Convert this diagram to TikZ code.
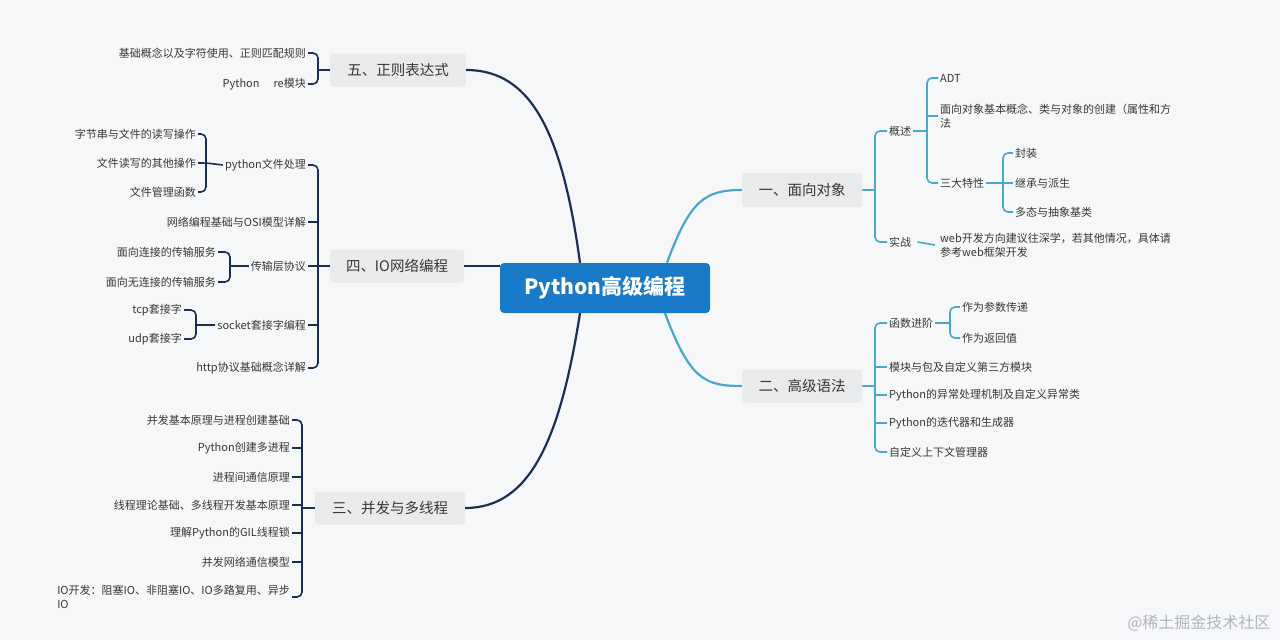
\documentclass[tikz,border=0pt]{standalone}
\usepackage{fontspec}
\setmainfont{Noto Sans CJK SC}
\usetikzlibrary{calc}
\definecolor{bg}{RGB}{246,247,249}
\definecolor{rootblue}{RGB}{24,122,200}
\definecolor{boxgray}{RGB}{233,234,236}
\definecolor{navy}{RGB}{26,48,82}
\definecolor{cyanl}{RGB}{72,168,202}
\definecolor{txt}{RGB}{55,55,55}
\definecolor{wm}{RGB}{178,181,186}
\begin{document}
\begin{tikzpicture}[x=1pt,y=-1pt,
  rootbox/.style={fill=rootblue, rounded corners=4pt, minimum width=210pt, minimum height=50pt, text=white, font=\fontsize{21}{24}\selectfont\bfseries},
  mainbox/.style={fill=boxgray, rounded corners=3pt, minimum height=33pt, text=txt, font=\fontsize{14.5}{17}\selectfont},
  lt/.style={anchor=east, inner sep=2pt, text=txt, font=\fontsize{11}{14}\selectfont, align=left},
  rt/.style={anchor=west, inner sep=2pt, text=txt, font=\fontsize{11}{14}\selectfont, align=left},
  nvm/.style={draw=navy, line width=2.2pt},
  cym/.style={draw=cyanl, line width=2.2pt},
  nvb/.style={draw=navy, line width=1.6pt, rounded corners=5pt},
  cyb/.style={draw=cyanl, line width=1.6pt, rounded corners=5pt},
  wmark/.style={anchor=east, text=wm, font=\fontsize{16}{18}\selectfont}
]
\useasboundingbox (0,0) rectangle (1280,640);
\fill[bg] (0,0) rectangle (1280,640);

% root and main branches
\node[rootbox] (root) at (605,288) {Python高级编程};
\node[mainbox, minimum width=136pt] (m5) at (398,70) {五、正则表达式};
\node[mainbox, minimum width=134pt] (m4) at (397,266) {四、IO网络编程};
\node[mainbox, minimum width=150pt] (m3) at (390,508) {三、并发与多线程};
\node[mainbox, minimum width=120pt, minimum height=34pt] (m1) at (802,190) {一、面向对象};
\node[mainbox, minimum width=120pt] (m2) at (802,386) {二、高级语法};

\draw[nvm] ([xshift=-25pt]root.north) .. controls (562,130) and (530,70) .. (m5.east);
\draw[nvm] (m4.east) -- (m4.east -| root.west);
\draw[nvm] ([xshift=-25pt]root.south) .. controls (560,440) and (530,508) .. (m3.east);
\draw[cym] ([xshift=62pt]root.north) .. controls (690,200) and (705,190) .. (m1.west);
\draw[cym] ([xshift=60pt]root.south) .. controls (690,380) and (705,386) .. (m2.west);

% ---- 五 ----
\node[lt] (k51) at (308,53) {基础概念以及字符使用、正则匹配规则};
\node[lt] (k52) at (308,84) {Python\hspace{14pt}re模块};
\coordinate (b5) at (318,70);
\draw[nvb] (k51.east) -| (b5) |- (k52.east);
\draw[nvb] (b5) -- (m5.west);

% ---- 四 ----
\node[lt] (k41) at (308,165) {python文件处理};
\node[lt] (k42) at (308,222) {网络编程基础与OSI模型详解};
\node[lt] (k43) at (308,266) {传输层协议};
\node[lt] (k44) at (308,325) {socket套接字编程};
\node[lt] (k45) at (308,368) {http协议基础概念详解};
\coordinate (b4) at (318,266);
\draw[nvb] (k41.east) -| (b4) |- (k45.east);
\draw[nvb] (k42.east) -- (k42.east -| b4);
\draw[nvb] (k44.east) -- (k44.east -| b4);
\draw[nvb] (k43.east) -- (b4) -- (m4.west);

\node[lt] (k411) at (198,134) {字节串与文件的读写操作};
\node[lt] (k412) at (198,163) {文件读写的其他操作};
\node[lt] (k413) at (198,192) {文件管理函数};
\coordinate (b41) at (206,163);
\draw[nvb] (k411.east) -| (b41) |- (k413.east);
\draw[nvb] (k412.east) -- (b41) -- (k41.west);

\node[lt] (k431) at (218,252) {面向连接的传输服务};
\node[lt] (k432) at (218,282) {面向无连接的传输服务};
\coordinate (b43) at (230,266);
\draw[nvb] (k431.east) -| (b43) |- (k432.east);
\draw[nvb] (b43) -- (k43.west);

\node[lt] (k441) at (184,310) {tcp套接字};
\node[lt] (k442) at (184,339) {udp套接字};
\coordinate (b44) at (196,325);
\draw[nvb] (k441.east) -| (b44) |- (k442.east);
\draw[nvb] (b44) -- (k44.west);

% ---- 三 ----
\node[lt] (k31) at (292,420) {并发基本原理与进程创建基础};
\node[lt] (k32) at (292,448) {Python创建多进程};
\node[lt] (k33) at (292,477) {进程间通信原理};
\node[lt] (k34) at (292,505) {线程理论基础、多线程开发基本原理};
\node[lt] (k35) at (292,533) {理解Python的GIL线程锁};
\node[lt] (k36) at (292,562) {并发网络通信模型};
\node[lt] (k37) at (292,597) {IO开发：阻塞IO、非阻塞IO、IO多路复用、异步\\IO};
\coordinate (b3) at (302,508);
\draw[nvb] (k31.east) -| (b3) |- (k37.east);
\foreach \k in {k32,k33,k34,k35,k36} \draw[nvb] (\k.east) -- (\k.east -| b3);
\draw[nvb] (b3) -- (m3.west);

% ---- 一 ----
\node[rt] (r1) at (887,131) {概述};
\node[rt] (r2) at (887,242) {实战};
\coordinate (b1) at (875,190);
\draw[cyb] (r1.west) -| (b1) |- (r2.west);
\draw[cyb] (b1) -- (m1.east);

\node[rt] (r11) at (938,78) {ADT};
\node[rt] (r12) at (938,116) {面向对象基本概念、类与对象的创建（属性和方\\法};
\node[rt] (r13) at (938,183) {三大特性};
\coordinate (b11) at (927,131);
\draw[cyb] (r11.west) -| (b11) |- (r13.west);
\draw[cyb] (r12.west) -- (r12.west -| b11);
\draw[cyb] (b11) -- (r1.east);

\node[rt] (r131) at (1013,153) {封装};
\node[rt] (r132) at (1013,183) {继承与派生};
\node[rt] (r133) at (1013,212) {多态与抽象基类};
\coordinate (b13) at (1003,183);
\draw[cyb] (r131.west) -| (b13) |- (r133.west);
\draw[cyb] (r132.west) -- (b13) -- (r13.east);

\node[rt] (r21) at (938,245) {web开发方向建议往深学，若其他情况，具体请\\参考web框架开发};
\draw[cyb] ([xshift=4pt]r2.east) -- ([xshift=-3pt]r21.west);

% ---- 二 ----
\node[rt] (s1) at (887,323) {函数进阶};
\node[rt] (s2) at (887,367) {模块与包及自定义第三方模块};
\node[rt] (s3) at (887,395) {Python的异常处理机制及自定义异常类};
\node[rt] (s4) at (887,423) {Python的迭代器和生成器};
\node[rt] (s5) at (887,452) {自定义上下文管理器};
\coordinate (b2) at (875,386);
\draw[cyb] (s1.west) -| (b2) |- (s5.west);
\foreach \s in {s2,s3,s4} \draw[cyb] (\s.west) -- (\s.west -| b2);
\draw[cyb] (b2) -- (m2.east);

\node[rt] (s11) at (960,307) {作为参数传递};
\node[rt] (s12) at (960,338) {作为返回值};
\coordinate (b21) at (950,323);
\draw[cyb] (s11.west) -| (b21) |- (s12.west);
\draw[cyb] (b21) -- (s1.east);

% watermark
\node[wmark] (wm) at (1274,623) {@稀土掘金技术社区};
\end{tikzpicture}
\end{document}
